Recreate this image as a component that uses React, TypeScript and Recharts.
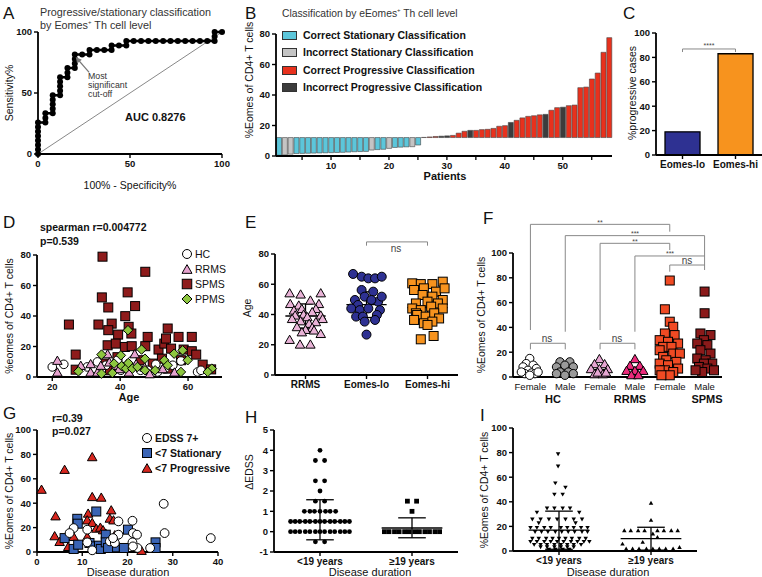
import React from 'react';
import { ScatterChart, Scatter, XAxis, YAxis, ReferenceLine, BarChart, Bar, Cell } from 'recharts';

const FONT = '"Liberation Sans", Arial, Helvetica, sans-serif';

// ---------- Panel A: ROC ----------
const rocFpr = [0,0,0,0,0,0,0,0,4,4,4,8,8,8,8,8,12,12,12,12,12,16,16,16,20,20,20,20,24,28,28,32,36,40,40,44,48,48,52,56,60,64,68,72,76,80,84,88,92,96,96,96,100];
const rocTpr = [0,3.7,7.4,11.1,14.8,18.5,22.2,25.9,25.9,29.6,33.3,33.3,37,40.7,44.4,48.1,48.1,51.9,55.6,59.3,63,63,66.7,70.4,70.4,74.1,77.8,81.5,81.5,81.5,85.2,85.2,85.2,85.2,88.9,88.9,88.9,92.6,92.6,92.6,92.6,92.6,92.6,92.6,92.6,92.6,92.6,92.6,92.6,92.6,96.3,100,100];
const rocCutoff = [{ x: 20.5, y: 79.5 }];

// ---------- Panel B: waterfall ----------
const bCutoff = 12.1;
const bValues = [0.5,0.7,1.2,1.6,1.7,1.8,1.9,2,2.1,2.2,2.3,2.4,2.6,2.8,2.9,3,3.9,4.2,4.4,5,5.6,5.8,6,6.1,7.2,
  12.2,12.5,12.8,13,13.2,13.5,15,16.2,16.8,16.8,17.3,17.5,18.1,19.5,19.9,22,23.4,25,26,26.4,27,27.3,30,31.7,32,33,33.4,44.8,45.2,50.5,54.4,68,77.6];
const bClass = ['cs','is','is','cs','cs','cs','cs','cs','cs','cs','cs','cs','cs','cs','cs','cs','is','cs','cs','is','cs','cs','cs','is','cs',
  'cp','cp','cp','ip','ip','cp','cp','cp','ip','cp','cp','cp','cp','cp','cp','ip','cp','cp','cp','cp','cp','ip','cp','cp','ip','cp','cp','cp','cp','cp','cp','cp','cp'];
const bColors: Record<string, string> = { cs: '#5cc6da', is: '#c4c4c4', cp: '#e8311d', ip: '#3c3c3c' };
const bLegend = [
  ['cs', 'Correct Stationary Classification'],
  ['is', 'Incorrect Stationary Classification'],
  ['cp', 'Correct Progressive Classification'],
  ['ip', 'Incorrect Progressive Classification'],
];
const bData = bValues.map((v, i) => ({ p: i + 1, range: v < bCutoff ? [v, bCutoff] : [bCutoff, v], cls: bClass[i] }));

// ---------- Panel C ----------
const cGroups = ['Eomes-lo', 'Eomes-hi'];
const cValues = [19, 83];
const cColors = ['#2e3192', '#f7931e'];
const cData = cGroups.map((g, i) => ({ g, v: cValues[i] }));

// ---------- Panel D: age vs eomes ----------
const dHC = [[20,6.6],[23.4,8.3],[30.3,6.6],[32.3,5.5],[33.3,9.9],[35.8,7.7],[39.2,11],[40.2,4.4],[43.6,11],[46,4.4],[48.1,4.4],[50.5,8.3],[51,3.3],[53.2,5.5],[55.5,7.7],[57.9,10.5],[62.8,3.3],[63.8,4.4]];
const dRRMS = [[21.5,11],[21.5,3.3],[28.4,7.7],[31.3,8.8],[31.3,3.3],[33.3,3.3],[34.3,7.7],[36.3,15.3],[36.8,9.9],[38.7,7.7],[39.7,5.5],[41.9,8.8],[42.6,3.3],[44.3,15.3],[44.7,8.8],[47.2,6.6],[48.7,2.2],[52.5,5.5],[56,3.3]];
const dSPMS = [[24.9,34.4],[26.9,14.7],[26.9,4.8],[34.8,78.9],[34.6,52.2],[36.5,45.6],[33.6,34.4],[37.5,35],[36.5,30.7],[36.3,20.8],[39.4,27.8],[41.5,39.9],[42.2,55.5],[44.4,46.5],[42.5,32.9],[43.3,28.5],[38.7,21.9],[41.4,19.7],[43.4,20.2],[47.4,69],[47.4,20.2],[48.1,26.3],[51.3,18],[53,21.9],[54,31.8],[53.5,25.2],[55,18.6],[57.2,26.3],[58.7,18],[61.1,26.3],[61.1,16.9],[62.4,14.7],[64.3,8.1],[66.8,5],[52.3,12],[39.2,13],[46,11],[37,4.4],[35.3,8.8],[57.9,11],[54,5.5],[49.6,8.8],[40.2,6.6]];
const dPPMS = [[27.7,3.7],[34.5,14.7],[34.5,2.2],[37.7,2.6],[40.4,7.2],[41.7,5.5],[42.3,30.7],[42.4,9.2],[43.6,5.5],[46.3,18],[47.3,12],[47.3,4.4],[50.3,4.4],[53,11],[54,7.7],[57.9,3.3],[58.4,17.5],[59.9,11],[67,5.5],[65.8,3.3],[40.2,14.2],[45.1,6.6],[38.2,8.8],[55.9,15.3]];

// ---------- Panel E: age by group (x = group position incl. spread) ----------
const eGroups = ['RRMS', 'Eomes-lo', 'Eomes-hi'];
const eRRMS = [[-0.26,54.4],[-0.08,53.6],[0.25,54.4],[-0.25,47.3],[0.08,49.6],[0.22,47.3],[-0.11,46.3],[-0.06,44],[0.17,44],[-0.19,43],[0.11,41.9],[-0.03,40.3],[0.25,39.7],[-0.17,39.7],[0.03,38.6],[-0.22,37.4],[0.28,37.4],[-0.08,35.9],[0.17,35.3],[0.06,34.2],[-0.14,32],[0.11,31.5],[0,30.2],[0.14,29.8],[-0.06,28.6],[0.25,27.5],[-0.26,23.6],[-0.09,20.5],[0.08,20.5]];
const eLo = [[0.78,66.8],[0.92,65],[1.03,63.9],[1.14,63.9],[1.25,65],[0.92,56.2],[1.11,55.1],[0.81,49.6],[0.97,51.8],[1.19,48.5],[1.08,49.6],[1.25,51.8],[0.86,46.3],[0.75,44],[0.89,42.9],[1.03,44],[1.22,42.9],[1.17,39.7],[0.83,38.6],[0.94,38.6],[0.97,35.3],[1.14,36.4],[1,26.7]];
const eHi = [[1.75,60.6],[1.89,60.1],[2.08,60.1],[2.25,61.7],[1.78,56.2],[1.94,57.3],[2.14,55.1],[2.28,57.3],[1.92,52.9],[2.08,51.8],[2.25,49.6],[1.81,47.3],[2,48.5],[2.17,47.3],[1.75,44],[1.89,42.9],[2.06,45.2],[2.25,44],[1.81,40.8],[1.83,39.7],[1.97,38.6],[2.11,40.8],[2.19,37.4],[1.78,36.4],[1.94,34.2],[2.08,35.3],[2,33.1],[1.89,23.6],[2.1,25.8]];
const eStats = [[0, 39, 47, 31], [1, 46.5, 55, 38], [2, 44.5, 53, 36]];

// ---------- Panel F: sex x disease ----------
const fLabels = ['Female', 'Male', 'Female', 'Male', 'Female', 'Male'];
const fHCf = [[-0.02,14.9],[-0.12,10.8],[0.08,9.5],[-0.21,8.1],[0.17,6.8],[-0.07,5.4],[0.03,3.2],[-0.16,2.7],[0.13,2.7],[-0.02,1.4],[-0.26,4],[0.22,4]];
const fHCm = [[0.85,12.2],[1.13,12.2],[0.75,8.1],[0.99,9.5],[1.23,8.1],[0.85,4],[1.09,4],[0.75,2.7],[1.23,2.7],[0.99,1.4]];
const fRRf = [[1.98,14.9],[1.84,10.8],[2.13,10.8],[1.74,6.8],[1.98,6.8],[2.22,6.8],[1.84,2.7],[2.08,2.7],[1.93,4],[2.17,4]];
const fRRm = [[3,14.9],[2.86,9.5],[3.14,9.5],[2.76,5.4],[3,5.4],[3.24,5.4],[2.9,1.9],[3.1,1.9]];
const fSPf = [[4,77.8],[3.86,54.6],[4,44.6],[4.1,40.5],[3.86,35.1],[4.14,33.8],[3.71,29.7],[3.95,28.4],[4.24,27],[3.81,24.3],[4.05,24.3],[3.71,21.6],[4.1,18.9],[4.29,18.9],[3.81,16.2],[3.9,13.5],[4.19,12.2],[3.71,10.8],[3.95,9.5],[4.24,6.8],[3.86,5.4],[3.71,5.4],[4.1,4],[4,1.4],[3.76,1.4]];
const fSPm = [[5,68.9],[5,51.4],[4.88,35.1],[5.17,33.8],[4.98,29.7],[4.79,27],[5.08,25.7],[4.88,21.6],[5.17,18.9],[4.79,14.9],[5.03,13.5],[5.22,10.8],[4.98,10.8],[4.84,8.1],[5.08,6.8],[4.93,4],[4.74,5.4],[5.27,5.4]];
const fMeans = [5.5, 7, 6, 6, 15.3, 16.3];

// ---------- Panel G: disease duration ----------
const gEDSS = [[8.1,19.6],[7.2,15.5],[11.1,18.3],[11.1,7.9],[12.2,1.4],[16.1,8.7],[17.2,7.4],[18,25.1],[18,14.2],[21.1,25.6],[21.2,15.5],[21.1,7.9],[22.1,14.2],[22.2,3.3],[25,3.3],[28,39.5],[28.2,15.5],[38.4,11.4],[16.8,11.4],[21.2,4.6]];
const gStat = [[8.9,27.2],[9,23.2],[13.1,33.2],[6.1,11.4],[8.1,2.5],[9.1,6],[11.6,7.4],[12.4,4.6],[13.7,5.2],[14.1,2.5],[15.2,14.2],[15.2,7.9],[17.2,3.8],[19.2,3.3],[20.1,18.3],[26.2,7.9],[26.2,3.3],[15.7,3.3]];
const gProg = [[1,51.5],[6.1,67.8],[12.2,78.2],[4.1,29.7],[3.9,13.4],[5,8.7],[6.9,4.6],[8.1,12.8],[12.2,45.5],[14.2,45],[11.3,31.9],[11.1,26.4],[12.2,24.3],[13.1,19.6],[14,20.4],[14.6,18.3],[15.3,14.2],[16.4,34.6],[16.1,27.8],[16.9,26.4],[11.1,12.8],[17.2,14.2],[23.1,1.4],[15.2,15.5]];

// ---------- Panel H: delta EDSS ----------
const hGroups = ['<19 years', '\u226519 years'];
const hShort = [[0,4],[-0.05,3.5],[0.05,3.5],[-0.05,2.5],[0.05,2.5],[0,2],[-0.05,1.5],[0.05,1.5],
  [-0.17,1],[-0.11,1],[-0.06,1],[0,1],[0.06,1],[0.11,1],[0.17,1],
  [-0.32,0.5],[-0.27,0.5],[-0.22,0.5],[-0.16,0.5],[-0.11,0.5],[-0.05,0.5],[0,0.5],[0.05,0.5],[0.11,0.5],[0.16,0.5],[0.22,0.5],[0.27,0.5],[0.32,0.5],
  [-0.32,0],[-0.27,0],[-0.22,0],[-0.16,0],[-0.11,0],[-0.05,0],[0,0],[0.05,0],[0.11,0],[0.16,0],[0.22,0],[0.27,0],[0.32,0],
  [-0.05,-0.5],[0.05,-0.5]];
const hLong = [[0.95,1.5],[1.05,1.5],[1,1],[0.7,0],[0.75,0],[0.81,0],[0.86,0],[0.92,0],[0.97,0],[1.03,0],[1.08,0],[1.14,0],[1.19,0],[1.25,0],[1.3,0]];
const hStats = [[0, 0.5, 1.57, -0.4], [1, 0.18, 0.68, -0.3]];

// ---------- Panel I ----------
const iShort = [[-0.01,78.7],[-0.01,68.7],[-0.04,55],[0.07,51.5],[-0.05,45.8],[0.04,45.8],
  [-0.13,34.6],[-0.05,34.6],[0.04,34.6],[0.12,34.6],[-0.24,31.2],[0.22,31.2],
  [-0.29,25.6],[-0.2,25.6],[-0.11,25.6],[-0.02,25.6],[0.07,25.6],[0.16,25.6],[0.25,25.6],[-0.22,22.6],[0.18,22.6],
  [-0.31,18.8],[-0.24,18.8],[-0.16,18.8],[-0.09,18.8],[0.02,18.8],[0.09,18.8],[0.16,18.8],[0.24,18.8],[0.31,18.8],
  [-0.26,15.5],[-0.19,15.5],[-0.12,15.5],[-0.04,15.5],[0.03,15.5],[0.1,15.5],[0.17,15.5],[0.25,15.5],[0.31,15.5],
  [-0.29,10],[-0.22,10],[-0.14,10],[-0.07,10],[0,10],[0.07,10],[0.14,10],[0.22,10],[0.29,10],
  [-0.31,7.4],[-0.24,7.4],[-0.16,7.4],[-0.09,7.4],[-0.02,7.4],[0.05,7.4],[0.13,7.4],[0.2,7.4],[0.27,7.4],[0.33,7.4],
  [-0.27,5],[-0.2,5],[-0.13,5],[-0.05,5],[0.02,5],[0.09,5],[0.16,5],[0.24,5],
  [-0.2,3],[-0.13,3],[-0.05,3],[0.02,3],[0.09,3],[0.16,3],[-0.11,1],[-0.04,1],[0.04,1],[0.11,1]];
const iLong = [[1,39.2],[1,25.3],[0.71,16.9],[0.78,16.9],[0.86,16.9],[0.93,16.9],[1.07,16.9],[1.14,16.9],[1.22,16.9],[1.29,16.9],
  [1.02,14.2],[1.07,11.4],[0.91,7.4],[0.69,6],[1.31,3.3],[0.73,2],[0.8,2],[0.87,2],[0.95,2],[1.02,2],[1.09,2],[1.16,2],[1.24,2]];
const iStats = [[0, 16.9, 32.4, 1.4], [1, 10, 19.3, 0.7]];

// ---------- helpers ----------
const pts = (a: number[][]) => a.map(([x, y]) => ({ x, y }));
const AX = { stroke: '#000', strokeWidth: 1.8 };
const TL = { stroke: '#000', strokeWidth: 1.4 };
const TK = { fontSize: 9.5, fontWeight: 700, fill: '#111', fontFamily: FONT };

const circ = (fill: string, r = 4, stroke = '#000', sw = 1) => (p: any) => <circle cx={p.cx} cy={p.cy} r={r} fill={fill} stroke={stroke} strokeWidth={sw} />;
const sq = (fill: string, s = 8, stroke = '#000', sw = 1) => (p: any) => <rect x={p.cx - s / 2} y={p.cy - s / 2} width={s} height={s} fill={fill} stroke={stroke} strokeWidth={sw} />;
const tri = (fill: string, s = 9, down = false, stroke = '#000', sw = 1) => (p: any) => {
  const h = s * 0.87; const a = down ? -1 : 1;
  return <polygon points={`${p.cx - s / 2},${p.cy + a * h / 2} ${p.cx + s / 2},${p.cy + a * h / 2} ${p.cx},${p.cy - a * h / 2}`} fill={fill} stroke={stroke} strokeWidth={sw} strokeLinejoin="round" />;
};
const dia = (fill: string, s = 9, stroke = '#000', sw = 1) => (p: any) => <polygon points={`${p.cx},${p.cy - s / 2} ${p.cx + s / 2},${p.cy} ${p.cx},${p.cy + s / 2} ${p.cx - s / 2},${p.cy}`} fill={fill} stroke={stroke} strokeWidth={sw} />;
const arrowHead = (p: any) => {
  const ux = -0.63, uy = -0.78;
  const bx = p.cx - ux * 6, by = p.cy - uy * 6;
  return <polygon points={`${p.cx},${p.cy} ${bx - uy * 3},${by + ux * 3} ${bx + uy * 3},${by - ux * 3}`} fill="#777" />;
};

const seg = (k: string, x1: any, y1: number, x2: any, y2: number, sw = 1.3, stroke = '#000') => (
  <ReferenceLine key={k} segment={[{ x: x1, y: y1 }, { x: x2, y: y2 }]} stroke={stroke} strokeWidth={sw} ifOverflow="visible" />
);
const meanSd = (k: string, cx: number, mean: number, hi: number, lo: number, mw: number, sw: number) => [
  seg(k + 'm', cx - mw, mean, cx + mw, mean),
  seg(k + 'h', cx - sw, hi, cx + sw, hi),
  seg(k + 'l', cx - sw, lo, cx + sw, lo),
  seg(k + 'v', cx, lo, cx, hi),
];

const T = ({ x, y, children, size = 10, weight = 400, anchor = 'start', color = '#111', rot = false }: any) => {
  const tx = anchor === 'middle' ? '-50%' : anchor === 'end' ? '-100%' : '0';
  return (
    <div style={{ position: 'absolute', left: x, top: y, transform: rot ? 'translate(-50%,-50%) rotate(-90deg)' : `translate(${tx},-50%)`, fontSize: size, fontWeight: weight, color, fontFamily: FONT, whiteSpace: 'nowrap', lineHeight: 1 }}>
      {children}
    </div>
  );
};
const P = ({ left, top, children }: any) => <div style={{ position: 'absolute', left, top }}>{children}</div>;

const BTick = (p: any) => {
  const v = p.payload.value;
  if (v % 5 !== 0) return <g />;
  return (
    <g>
      <line x1={p.x} x2={p.x} y1={p.y} y2={p.y + 4} stroke="#000" strokeWidth={1.3} />
      {v % 10 === 0 && <text x={p.x} y={p.y + 13} textAnchor="middle" style={TK}>{v}</text>}
    </g>
  );
};

const Mk = ({ children }: any) => <svg width={12} height={12} style={{ position: 'absolute', left: -6, top: -6, overflow: 'visible' }}>{children}</svg>;
const LegendItem = ({ x, y, shape, label, bold = false }: any) => (
  <>
    <div style={{ position: 'absolute', left: x, top: y }}><Mk>{shape({ cx: 6, cy: 6 })}</Mk></div>
    <T x={x + 8} y={y} size={10.5} weight={bold ? 700 : 400}>{label}</T>
  </>
);

export default function App() {
  const roc = rocFpr.map((x, i) => ({ x, y: rocTpr[i] }));
  return (
    <div style={{ position: 'absolute', left: 0, top: 0, width: 762, height: 577, background: '#fff', overflow: 'hidden', fontFamily: FONT }}>
      {/* ---------- A ---------- */}
      <P left={0} top={0}>
        <ScatterChart width={240} height={200} margin={{ top: 32, right: 18, bottom: 16, left: 8 }}>
          <XAxis type="number" dataKey="x" domain={[0, 100]} ticks={[0, 50, 100]} axisLine={AX} tickLine={TL} tickSize={4} tick={TK} height={30} />
          <YAxis type="number" dataKey="y" domain={[0, 100]} ticks={[0, 50, 100]} axisLine={AX} tickLine={TL} tickSize={4} tick={TK} width={30} />
          {seg('diag', 0, 0, 100, 100, 0.7, '#555')}
          {seg('arrow', 27.8, 66.9, 20.5, 79.5, 1.2, '#777')}
          <Scatter data={roc} isAnimationActive={false} line={{ stroke: '#000', strokeWidth: 2.5 }} lineType="joint" shape={circ('#000', 3, '#000', 0)} />
          <Scatter data={rocCutoff} isAnimationActive={false} shape={arrowHead} />
        </ScatterChart>
      </P>
      <T x={3} y={13} size={17}>A</T>
      <T x={40} y={12} size={10.8} color="#333">Progressive/stationary classification</T>
      <T x={40} y={25} size={10.8} color="#333">by Eomes<sup style={{ fontSize: 6 }}>+</sup> Th cell level</T>
      <T x={88} y={75.5} size={8.8} color="#333">Most</T>
      <T x={88} y={84.9} size={8.8} color="#333">significant</T>
      <T x={88} y={94.3} size={8.8} color="#333">cut-off</T>
      <T x={125} y={117} size={11} weight={700}>AUC 0.8276</T>
      <T x={9} y={93} size={10.5} rot>Sensitivity%</T>
      <T x={130} y={185} size={10.5} anchor="middle">100% - Specificity%</T>

      {/* ---------- B ---------- */}
      <P left={232} top={0}>
        <BarChart width={390} height={200} data={bData} margin={{ top: 34, right: 10, bottom: 14, left: 10 }} barCategoryGap="10%">
          <XAxis dataKey="p" interval={0} axisLine={AX} tickLine={false} tickSize={0} tickMargin={0} tick={BTick} height={30} />
          <YAxis type="number" domain={[0, 80]} ticks={[0, bCutoff, 20, 40, 60, 80]} axisLine={AX} tickLine={TL} tickSize={4} tick={TK} width={34} />
          <Bar dataKey="range" isAnimationActive={false} stroke="#444" strokeWidth={0.6}>
            {bData.map((d, i) => <Cell key={i} fill={bColors[d.cls]} />)}
          </Bar>
        </BarChart>
      </P>
      <T x={245} y={13} size={17}>B</T>
      <T x={282} y={13} size={10.3} color="#333">Classification by eEomes<sup style={{ fontSize: 6 }}>+</sup> Th cell level</T>
      {bLegend.map(([k, label], i) => (
        <React.Fragment key={k}>
          <div style={{ position: 'absolute', left: 282, top: 31 + i * 17.3, width: 13, height: 7, background: bColors[k], border: '1px solid #333' }} />
          <T x={303} y={35 + i * 17.3} size={10.5} weight={700}>{label}</T>
        </React.Fragment>
      ))}
      <T x={249} y={80} size={10.5} rot>%Eomes of CD4+ T cells</T>
      <T x={445} y={176} size={11} weight={700} anchor="middle">Patients</T>

      {/* ---------- C ---------- */}
      <P left={620} top={0}>
        <BarChart width={142} height={200} data={cData} margin={{ top: 33, right: 0, bottom: 15, left: 6 }} barCategoryGap="17%">
          <XAxis dataKey="g" axisLine={AX} tickLine={TL} tickSize={4} tick={{ ...TK, fontSize: 10 }} height={30} interval={0} />
          <YAxis type="number" domain={[0, 100]} ticks={[0, 20, 40, 60, 80, 100]} axisLine={AX} tickLine={TL} tickSize={4} tick={TK} width={30} />
          {seg('c1', 'Eomes-lo', 84.4, 'Eomes-lo', 86.9, 1, '#888')}
          {seg('c2', 'Eomes-lo', 86.9, 'Eomes-hi', 86.9, 1, '#888')}
          {seg('c3', 'Eomes-hi', 86.9, 'Eomes-hi', 84.4, 1, '#888')}
          <Bar dataKey="v" isAnimationActive={false} stroke="#000" strokeWidth={1.3}>
            {cData.map((d, i) => <Cell key={i} fill={cColors[i]} />)}
          </Bar>
        </BarChart>
      </P>
      <T x={623} y={13} size={17}>C</T>
      <T x={709} y={45} size={7} anchor="middle" color="#444">****</T>
      <T x={632} y={93} size={10.5} rot>%progressive cases</T>

      {/* ---------- D ---------- */}
      <P left={0} top={190}>
        <ScatterChart width={240} height={210} margin={{ top: 65, right: 18, bottom: 3, left: 8 }}>
          <XAxis type="number" dataKey="x" domain={[15.5, 70]} ticks={[20, 40, 60]} axisLine={AX} tickLine={TL} tickSize={4} tick={TK} height={20} />
          <YAxis type="number" dataKey="y" domain={[0, 80]} ticks={[0, 20, 40, 60, 80]} axisLine={AX} tickLine={TL} tickSize={4} tick={TK} width={29} />
          <Scatter data={pts(dSPMS)} isAnimationActive={false} shape={sq('#8e1b1b', 9)} />
          <Scatter data={pts(dHC)} isAnimationActive={false} shape={circ('#fff', 4.3)} />
          <Scatter data={pts(dRRMS)} isAnimationActive={false} shape={tri('#e6a3cf', 9.5)} />
          <Scatter data={pts(dPPMS)} isAnimationActive={false} shape={dia('#8dc63f', 9.5)} />
        </ScatterChart>
      </P>
      <T x={3} y={222} size={17}>D</T>
      <T x={40} y={227} size={10.5} weight={700}>spearman r=0.004772</T>
      <T x={40} y={241} size={10.5} weight={700}>p=0.539</T>
      <LegendItem x={187} y={254} shape={circ('#fff', 4.5)} label="HC" />
      <LegendItem x={187} y={269} shape={tri('#e6a3cf', 10)} label="RRMS" />
      <LegendItem x={187} y={284} shape={sq('#8e1b1b', 9.5)} label="SPMS" />
      <LegendItem x={187} y={299} shape={dia('#8dc63f', 10)} label="PPMS" />
      <T x={9} y={316} size={10.5} rot>%eomes of CD4+ T cells</T>
      <T x={129} y={397} size={11} weight={700} anchor="middle">Age</T>

      {/* ---------- E ---------- */}
      <P left={240} top={190}>
        <ScatterChart width={220} height={210} margin={{ top: 64, right: 2, bottom: 5, left: 7 }}>
          <XAxis type="number" dataKey="x" domain={[-0.5, 2.5]} ticks={[0, 1, 2]} tickFormatter={(v: number) => eGroups[v] ?? ''} axisLine={AX} tickLine={TL} tickSize={4} tick={{ ...TK, fontSize: 10 }} height={20} />
          <YAxis type="number" dataKey="y" domain={[0, 80]} ticks={[0, 20, 40, 60, 80]} axisLine={AX} tickLine={TL} tickSize={4} tick={TK} width={28} />
          <Scatter data={pts(eRRMS)} isAnimationActive={false} shape={tri('#e9b3d7', 9.5)} />
          <Scatter data={pts(eLo)} isAnimationActive={false} shape={circ('#2e3192', 4.5)} />
          <Scatter data={pts(eHi)} isAnimationActive={false} shape={sq('#f7931e', 9)} />
          {eStats.flatMap(([c, m, h, l]) => meanSd('e' + c, c, m, h, l, 0.33, 0.12))}
          {seg('ens1', 1, 85.5, 1, 88, 1, '#888')}
          {seg('ens2', 1, 88, 2, 88, 1, '#888')}
          {seg('ens3', 2, 88, 2, 85.5, 1, '#888')}
        </ScatterChart>
      </P>
      <T x={245} y={222} size={17}>E</T>
      <T x={396} y={249} size={10} anchor="middle" color="#444">ns</T>
      <T x={247} y={308} size={10.5} rot>Age</T>

      {/* ---------- F ---------- */}
      <P left={480} top={190}>
        <ScatterChart width={282} height={215} margin={{ top: 63, right: 40, bottom: 8, left: 7 }}>
          <XAxis type="number" dataKey="x" domain={[-0.5, 5.5]} ticks={[0, 1, 2, 3, 4, 5]} tickFormatter={(v: number) => fLabels[v] ?? ''} axisLine={AX} tickLine={false} tickSize={4} tick={{ ...TK, fontWeight: 400, fontSize: 9.5 }} height={20} interval={0} />
          <YAxis type="number" dataKey="y" domain={[0, 100]} ticks={[0, 20, 40, 60, 80, 100]} axisLine={AX} tickLine={TL} tickSize={4} tick={TK} width={26} />
          <Scatter data={pts(fHCf)} isAnimationActive={false} shape={circ('#fff', 4.2)} />
          <Scatter data={pts(fHCm)} isAnimationActive={false} shape={circ('#9a9a9a', 4.2)} />
          <Scatter data={pts(fRRf)} isAnimationActive={false} shape={tri('#e6a6d2', 9.5)} />
          <Scatter data={pts(fRRm)} isAnimationActive={false} shape={tri('#ec2a7b', 9.5)} />
          <Scatter data={pts(fSPf)} isAnimationActive={false} shape={sq('#f04a23', 9)} />
          <Scatter data={pts(fSPm)} isAnimationActive={false} shape={sq('#8b1a1a', 9)} />
          {fMeans.map((m, i) => seg('fm' + i, i - 0.3, m, i + 0.3, m, 1.2))}
          {seg('b1a', 0, 37.9, 0, 123.1, 1, '#888')}{seg('b1b', 0, 123.1, 4, 123.1, 1, '#888')}{seg('b1c', 4, 123.1, 4, 117.2, 1, '#888')}
          {seg('b2a', 1, 36.5, 1, 114, 1, '#888')}{seg('b2b', 1, 114, 5, 114, 1, '#888')}{seg('b2c', 5, 114, 5, 86.3, 1, '#888')}
          {seg('b3a', 2, 37.9, 2, 107.8, 1, '#888')}{seg('b3b', 2, 107.8, 4, 107.8, 1, '#888')}{seg('b3c', 4, 107.8, 4, 102.4, 1, '#888')}
          {seg('b4a', 3, 36.5, 3, 97.6, 1, '#888')}{seg('b4b', 3, 97.6, 5, 97.6, 1, '#888')}
          {seg('b5a', 4, 84.9, 4, 90.3, 1, '#888')}{seg('b5b', 4, 90.3, 5, 90.3, 1, '#888')}
          {seg('b6a', 0, 22.3, 0, 27.2, 1, '#888')}{seg('b6b', 0, 27.2, 1, 27.2, 1, '#888')}{seg('b6c', 1, 27.2, 1, 22.3, 1, '#888')}
          {seg('b7a', 2, 22.3, 2, 27.2, 1, '#888')}{seg('b7b', 2, 27.2, 3, 27.2, 1, '#888')}{seg('b7c', 3, 27.2, 3, 22.3, 1, '#888')}
        </ScatterChart>
      </P>
      <T x={483} y={218} size={17}>F</T>
      <T x={600} y={222} size={7} anchor="middle" color="#444">**</T>
      <T x={635} y={233} size={7} anchor="middle" color="#444">***</T>
      <T x={635} y={241} size={7} anchor="middle" color="#444">**</T>
      <T x={670} y={253} size={7} anchor="middle" color="#444">***</T>
      <T x={687} y={261} size={10} anchor="middle" color="#444">ns</T>
      <T x={547} y={339} size={10} anchor="middle" color="#444">ns</T>
      <T x={617} y={339} size={10} anchor="middle" color="#444">ns</T>
      <T x={481} y={315} size={10.5} rot>%Eomes of CD4+ T cells</T>
      <T x={553} y={399} size={11} weight={700} anchor="middle">HC</T>
      <T x={630} y={399} size={11} weight={700} anchor="middle">RRMS</T>
      <T x={707} y={399} size={11} weight={700} anchor="middle">SPMS</T>

      {/* ---------- G ---------- */}
      <P left={0} top={385}>
        <ScatterChart width={240} height={192} margin={{ top: 45, right: 22, bottom: 5, left: 8 }}>
          <XAxis type="number" dataKey="x" domain={[0, 40]} ticks={[0, 10, 20, 30, 40]} axisLine={AX} tickLine={TL} tickSize={4} tick={TK} height={20} />
          <YAxis type="number" dataKey="y" domain={[0, 100]} ticks={[0, 20, 40, 60, 80, 100]} axisLine={AX} tickLine={TL} tickSize={4} tick={TK} width={29} />
          <Scatter data={pts(gProg)} isAnimationActive={false} shape={tri('#d7261e', 9.5)} />
          <Scatter data={pts(gStat)} isAnimationActive={false} shape={sq('#3a64b5', 9)} />
          <Scatter data={pts(gEDSS)} isAnimationActive={false} shape={circ('#fff', 4.4)} />
        </ScatterChart>
      </P>
      <T x={3} y={413} size={17}>G</T>
      <T x={52} y={418} size={10.5} weight={700}>r=0.39</T>
      <T x={52} y={431} size={10.5} weight={700}>p=0.027</T>
      <LegendItem x={147} y={438} shape={circ('#fff', 4.5)} label="EDSS 7+" bold />
      <LegendItem x={147} y={453} shape={sq('#3a64b5', 9)} label="<7 Stationary" bold />
      <LegendItem x={147} y={468} shape={tri('#d7261e', 10)} label="<7 Progressive" bold />
      <T x={9} y={491} size={10.5} rot>%Eomes of CD4+ T cells</T>
      <T x={128} y={572} size={11} anchor="middle">Disease duration</T>

      {/* ---------- H ---------- */}
      <P left={240} top={385}>
        <ScatterChart width={230} height={192} margin={{ top: 45, right: 12, bottom: 5, left: 8 }}>
          <XAxis type="number" dataKey="x" domain={[-0.5, 1.5]} ticks={[0, 1]} tickFormatter={(v: number) => hGroups[v] ?? ''} axisLine={AX} tickLine={TL} tickSize={4} tick={{ ...TK, fontSize: 10 }} height={20} />
          <YAxis type="number" dataKey="y" domain={[-1, 5]} ticks={[-1, 0, 1, 2, 3, 4, 5]} axisLine={AX} tickLine={TL} tickSize={4} tick={TK} width={26} />
          <Scatter data={pts(hShort)} isAnimationActive={false} shape={circ('#000', 2.4, '#000', 0)} />
          <Scatter data={pts(hLong)} isAnimationActive={false} shape={sq('#000', 4.8, '#000', 0)} />
          {hStats.flatMap(([c, m, h, l]) => meanSd('h' + c, c, m, h, l, 0.33, 0.15))}
        </ScatterChart>
      </P>
      <T x={245} y={417} size={17}>H</T>
      <T x={249} y={472} size={10.5} rot>ΔEDSS</T>
      <T x={370} y={572} size={11} anchor="middle">Disease duration</T>

      {/* ---------- I ---------- */}
      <P left={480} top={385}>
        <ScatterChart width={282} height={192} margin={{ top: 43, right: 65, bottom: 6, left: 7 }}>
          <XAxis type="number" dataKey="x" domain={[-0.5, 1.5]} ticks={[0, 1]} tickFormatter={(v: number) => hGroups[v] ?? ''} axisLine={AX} tickLine={TL} tickSize={4} tick={{ ...TK, fontSize: 10 }} height={20} />
          <YAxis type="number" dataKey="y" domain={[0, 100]} ticks={[0, 20, 40, 60, 80, 100]} axisLine={AX} tickLine={TL} tickSize={4} tick={TK} width={26} />
          <Scatter data={pts(iShort)} isAnimationActive={false} shape={tri('#000', 4.5, true, '#000', 0)} />
          <Scatter data={pts(iLong)} isAnimationActive={false} shape={tri('#000', 4.5, false, '#000', 0)} />
          {iStats.flatMap(([c, m, h, l]) => meanSd('i' + c, c, m, h, l, 0.33, 0.15))}
        </ScatterChart>
      </P>
      <T x={480} y={415} size={17}>I</T>
      <T x={484} y={490} size={10.5} rot>%Eomes of CD4+ T cells</T>
      <T x={608} y={572} size={11} anchor="middle">Disease duration</T>
    </div>
  );
}
